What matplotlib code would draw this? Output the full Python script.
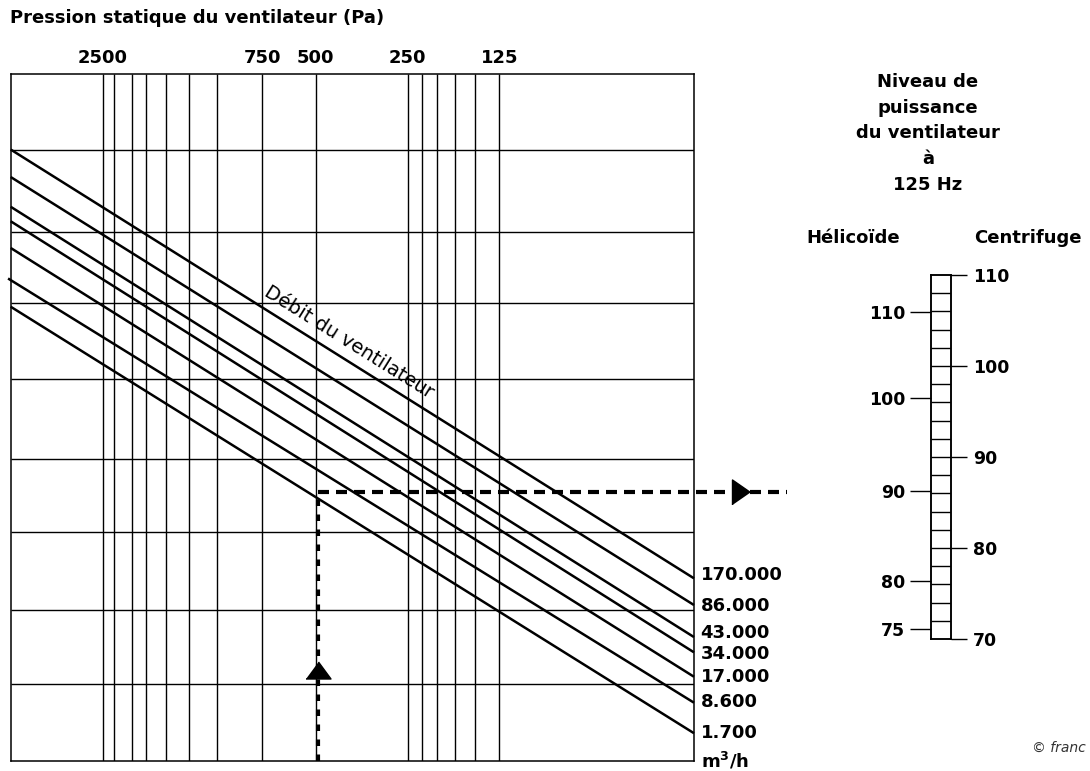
import matplotlib.pyplot as plt
from matplotlib.ticker import NullLocator

# === Data ===

# static pressure (Pa) of the vertical lines, and the ones labelled on top
pressure_lines = [2500, 2300, 2000, 1800, 1550, 1300, 1050, 750, 500,
                  250, 225, 200, 175, 150, 125]
pressure_labels = [2500, 750, 500, 250, 125]
pressure_min, pressure_max = 28.8, 5000

# horizontal grid, in grid units (0 = bottom of the chart, 9 = top)
level_lines = [1.0, 1.97, 3.0, 3.95, 5.0, 6.0, 6.93, 8.0]

# fan airflow lines (m3/h): level at the left edge and at the right edge
flow_labels = ["170.000", "86.000", "43.000", "34.000", "17.000", "8.600", "1.700"]
flow_start_pa = [5000, 5000, 5000, 5000, 5000, 5100, 5000]
flow_start_level = [8.01, 7.65, 7.26, 7.07, 6.72, 6.32, 5.95]
flow_end_level = [2.39, 2.04, 1.62, 1.42, 1.10, 0.76, 0.36]
flow_label_level = [2.43, 2.03, 1.68, 1.40, 1.10, 0.77, 0.36]

# worked example (dashed path)
example_pa = 490
example_level = 3.52
example_end_pa = 14.3
arrow_up_level = 1.19
arrow_right_pa = 20.2

# sound power scale at 125 Hz
centrifuge_ticks = [110, 100, 90, 80, 70]
helicoide_ticks = [110, 100, 90, 80, 75]
helicoide_pos = [105.97, 96.45, 86.30, 76.41, 71.10]  # on the centrifuge scale
rungs = [72, 74, 76, 78, 80, 82, 84, 86, 88, 90, 92, 94, 96, 98, 100,
         102, 104, 106, 108]

header_lines = ["Niveau de", "puissance", "du ventilateur", "à", "125 Hz"]

# === Figure ===

W, H = 1090, 771
plt.rcParams["font.family"] = ["DejaVu Sans"]
plt.rcParams["font.weight"] = "bold"


def fx(x):
    return x / W


def fy(y):
    return 1 - y / H


fig = plt.figure(figsize=(W / 100, H / 100), dpi=100)

ax = fig.add_axes([fx(10.7), fy(760.7), (694 - 10.7) / W, (760.7 - 74) / H])
ax.set_xscale("log")
ax.set_xlim(pressure_max, pressure_min)
ax.set_ylim(0, 9)
ax.xaxis.set_minor_locator(NullLocator())
ax.xaxis.tick_top()
ax.set_xticks(pressure_labels, [str(p) for p in pressure_labels])
ax.set_yticks([])
ax.tick_params(axis="x", length=0, pad=5, labelsize=13)
for s in ax.spines.values():
    s.set_linewidth(1.1)

ax.vlines(pressure_lines, 0, 9, color="black", lw=1.0)
ax.hlines(level_lines, pressure_max, pressure_min, color="black", lw=1.0)

for lab, x0, y0, y1, yl in zip(flow_labels, flow_start_pa, flow_start_level,
                               flow_end_level, flow_label_level):
    ax.plot([x0, pressure_min], [y0, y1], color="black", lw=1.8,
            solid_capstyle="butt", clip_on=False)
    ax.annotate(lab, (pressure_min, yl), xytext=(4.8, 0),
                textcoords="offset points", ha="left", va="center",
                fontsize=13, annotation_clip=False)

ax.annotate("m$^\\mathbf{3}$/h", (pressure_min, 0.0), xytext=(4.8, 0),
            textcoords="offset points", ha="left", va="center",
            fontsize=13, annotation_clip=False)

ax.text(389, 5.49, "Débit du ventilateur", rotation=-32,
        rotation_mode="anchor", ha="center", va="center",
        fontsize=14, fontweight="normal")

# dashed example path with arrows
ax.plot([example_pa, example_pa], [0, example_level], color="black", lw=3,
        linestyle=(0, (1.56, 2.04)), clip_on=False)
ax.plot([example_pa, example_end_pa], [example_level, example_level],
        color="black", lw=3, linestyle=(0, (2.64, 1.68)), clip_on=False)
ax.plot([example_pa], [arrow_up_level], color="black", ms=18, clip_on=False,
        marker=[(-0.5, -0.34), (0.5, -0.34), (0, 0.34)])
ax.plot([arrow_right_pa], [example_level], color="black", ms=18, clip_on=False,
        marker=[(-0.36, -0.5), (-0.36, 0.5), (0.36, 0)])

fig.text(fx(10), fy(18), "Pression statique du ventilateur (Pa)",
         ha="left", va="center", fontsize=13)

# === Sound power ladder ===

for i, line in enumerate(header_lines):
    fig.text(fx(928), fy(82 + i * 25.7), line, ha="center", va="center",
             fontsize=13)
fig.text(fx(853), fy(238), "Hélicoïde", ha="center", va="center", fontsize=13)
fig.text(fx(1028), fy(238), "Centrifuge", ha="center", va="center", fontsize=13)

lad = fig.add_axes([fx(930.7), fy(639), 20 / W, 364 / H])
lad.set_xlim(0, 1)
lad.set_ylim(70, 110)
lad.set_xticks([])
lad.hlines(rungs, 0, 1, color="black", lw=1.0)
lad.set_yticks(helicoide_pos, [str(v) for v in helicoide_ticks])
lad.tick_params(axis="y", length=14.9, width=1.0, pad=3.6, labelsize=12.5)
for s in lad.spines.values():
    s.set_linewidth(1.1)

rt = lad.twinx()
rt.set_ylim(70, 110)
rt.set_yticks(centrifuge_ticks, [str(v) for v in centrifuge_ticks])
rt.tick_params(axis="y", length=11.5, width=1.0, pad=4.5, labelsize=12.5)
for s in rt.spines.values():
    s.set_linewidth(1.1)

fig.text(fx(1086), fy(748), "© franc", ha="right", va="center", fontsize=10,
         style="italic", fontweight="normal", color="#333333")

fig.savefig("out.png", dpi=100)
